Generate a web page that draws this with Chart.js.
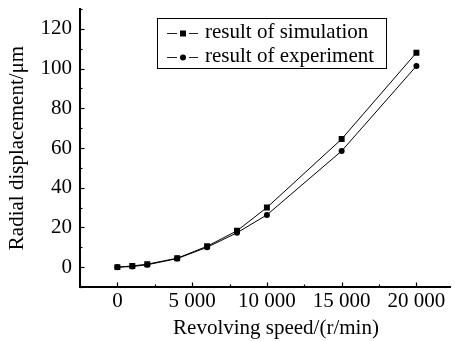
<!DOCTYPE html>
<html><head><meta charset="utf-8">
<script src="https://cdn.jsdelivr.net/npm/chart.js@4"></script>
<style>html,body{margin:0;padding:0;background:#fff}canvas{display:block}</style>
</head><body>
<canvas id="c" width="455" height="341"></canvas>
<script>
const speeds = [0, 1000, 2000, 4000, 6000, 8000, 10000, 15000, 20000];
const simulation = [0, 0.6, 1.5, 4.5, 10.5, 18.3, 30, 64.5, 108];
const experiment = [0, 0.3, 1.2, 4.3, 10, 17.3, 26.3, 58.5, 101.3];
const seriesNames = ['result of simulation', 'result of experiment'];
const xTickValues = [0, 5000, 10000, 15000, 20000];
const xTickLabels = ['0', '5 000', '10 000', '15 000', '20 000'];
const xMinorValues = [-2500, 2500, 7500, 12500, 17500];
const yTickValues = [0, 20, 40, 60, 80, 100, 120];
const yTickLabels = ['0', '20', '40', '60', '80', '100', '120'];
const yMinorValues = [-10, 10, 30, 50, 70, 90, 110, 130];
const xTitle = 'Revolving speed/(r/min)';
const yTitle = 'Radial displacement/\u03bcm';

const FONT = '"Liberation Serif", "Times New Roman", serif';
const INK = '#000';

const decor = {
  id: 'decor',
  afterDraw(chart) {
    const ctx = chart.ctx, a = chart.chartArea;
    const xs = chart.scales.x, ys = chart.scales.y;
    ctx.save();
    ctx.strokeStyle = INK; ctx.lineWidth = 1.2;
    const tick = (x1, y1, x2, y2) => { ctx.beginPath(); ctx.moveTo(x1, y1); ctx.lineTo(x2, y2); ctx.stroke(); };
    xTickValues.forEach(v => { const p = Math.round(xs.getPixelForValue(v)) + 0.5; tick(p, a.bottom, p, a.bottom - 4.5); });
    xMinorValues.forEach(v => { const p = Math.round(xs.getPixelForValue(v)) + 0.5; tick(p, a.bottom, p, a.bottom - 2.5); });
    yTickValues.forEach(v => { const p = Math.round(ys.getPixelForValue(v)) + 0.5; tick(a.left, p, a.left + 4.5, p); });
    yMinorValues.forEach(v => { const p = Math.round(ys.getPixelForValue(v)) + 0.5; tick(a.left, p, a.left + 2.5, p); });
    ctx.fillStyle = INK;
    ctx.font = '21px ' + FONT;
    ctx.textAlign = 'center'; ctx.textBaseline = 'alphabetic';
    ctx.fillText(xTitle, 276, 334);
    ctx.save();
    ctx.translate(23, (a.top + a.bottom) / 2);
    ctx.rotate(-Math.PI / 2);
    ctx.fillText(yTitle, 0, 0);
    ctx.restore();
    ctx.lineWidth = 1;
    ctx.strokeRect(157.5, 18.5, 229, 50);
    const rows = [33, 57];
    chart.data.datasets.forEach((ds, i) => {
      const y = rows[i];
      ctx.strokeStyle = '#222'; ctx.lineWidth = 1;
      tick(167, y + 0.5, 177, y + 0.5);
      tick(189, y + 0.5, 198, y + 0.5);
      ctx.fillStyle = INK;
      if (ds.pointStyle === 'rect') { ctx.fillRect(180, y - 2.5, 6, 6); }
      else { ctx.beginPath(); ctx.arc(183, y + 0.5, 3, 0, Math.PI * 2); ctx.fill(); }
      ctx.font = '21px ' + FONT;
      ctx.textAlign = 'left'; ctx.textBaseline = 'middle';
      ctx.fillText(ds.label, 205, y - 1);
    });
    ctx.restore();
  }
};

const noPad = s => { s.paddingTop = 0; s.paddingBottom = 0; s.paddingLeft = 0; s.paddingRight = 0; };

new Chart(document.getElementById('c'), {
  type: 'line',
  data: {
    datasets: [
      { label: seriesNames[0], data: speeds.map((s, i) => ({ x: s, y: simulation[i] })),
        borderColor: INK, backgroundColor: INK, borderWidth: 1, pointStyle: 'rect',
        pointRadius: 4.2, pointBorderWidth: 0, tension: 0 },
      { label: seriesNames[1], data: speeds.map((s, i) => ({ x: s, y: experiment[i] })),
        borderColor: INK, backgroundColor: INK, borderWidth: 1, pointStyle: 'circle',
        pointRadius: 3, pointBorderWidth: 0, tension: 0 }
    ]
  },
  options: {
    responsive: false, animation: false, devicePixelRatio: 1,
    layout: { padding: { top: 9, right: 3, bottom: 0, left: 0 } },
    plugins: { legend: { display: false }, tooltip: { enabled: false } },
    scales: {
      x: {
        type: 'linear', min: -2500, max: 22300,
        grid: { display: false, drawTicks: false },
        border: { display: true, color: INK, width: 2 },
        afterBuildTicks: s => { s.ticks = xTickValues.map(v => ({ value: v })); },
        afterFit: s => { s.height = 54; noPad(s); },
        ticks: { padding: 2, color: INK, font: { family: FONT, size: 21 },
          maxRotation: 0, autoSkip: false,
          callback: (v) => xTickLabels[xTickValues.indexOf(v)] }
      },
      y: {
        type: 'linear', min: -10, max: 130,
        grid: { display: false, drawTicks: false },
        border: { display: true, color: INK, width: 2 },
        afterBuildTicks: s => { s.ticks = yTickValues.map(v => ({ value: v })); },
        afterFit: s => { s.width = 80; noPad(s); },
        ticks: { padding: 8, color: INK, font: { family: FONT, size: 21 },
          callback: (v) => yTickLabels[yTickValues.indexOf(v)] }
      }
    }
  },
  plugins: [decor]
});
</script>
</body></html>
